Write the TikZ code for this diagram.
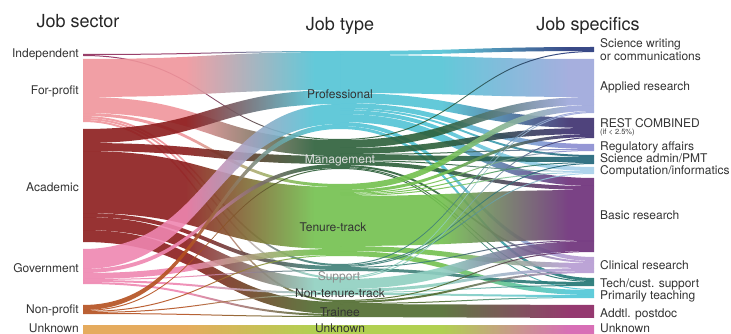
\documentclass[tikz,border=0pt]{standalone}
\usepackage{fontspec}
\setmainfont{TeX Gyre Heros}
% sector colours
\definecolor{cInd}{HTML}{8E2A5A}
\definecolor{cFor}{HTML}{EF959B}
\definecolor{cAca}{HTML}{8C1D1D}
\definecolor{cGov}{HTML}{EE86B0}
\definecolor{cNon}{HTML}{B4501F}
\definecolor{cUnL}{HTML}{E2A24C}
% job type colours
\definecolor{cPro}{HTML}{52C3D5}
\definecolor{cMan}{HTML}{2C5F3A}
\definecolor{cTen}{HTML}{72C04E}
\definecolor{cSup}{HTML}{3F7F78}
\definecolor{cNtt}{HTML}{8FCFC0}
\definecolor{cTra}{HTML}{4F6A2E}
\definecolor{cUnM}{HTML}{A9CB3E}
% job specifics colours
\definecolor{cSwr}{HTML}{23357A}
\definecolor{cApp}{HTML}{9CA6DA}
\definecolor{cRst}{HTML}{3C2F6E}
\definecolor{cReg}{HTML}{8A8CD0}
\definecolor{cAdm}{HTML}{1F6478}
\definecolor{cCom}{HTML}{A6CFEA}
\definecolor{cBas}{HTML}{6B2D78}
\definecolor{cCli}{HTML}{B59AD2}
\definecolor{cTec}{HTML}{1F7472}
\definecolor{cTea}{HTML}{4FC6D6}
\definecolor{cPos}{HTML}{8A2460}
\definecolor{cUnR}{HTML}{D45FAE}
\colorlet{fromc}{cFor}
\colorlet{toc}{cPro}
% band colour stays put first, then turns into the target colour
\pgfdeclarehorizontalshading[fromc,toc]{ribbon}{100bp}{color(0bp)=(fromc); color(45bp)=(fromc);
    color(70bp)=(toc); color(100bp)=(toc)}
\tikzset{
  band/.style={fill opacity=0.9, shading=ribbon},
  lbl/.style={font=\fontsize{12}{13}\selectfont, text=black!80, inner sep=0pt},
  ttl/.style={font=\fontsize{18}{20}\selectfont, text=black!85, inner sep=0pt}
}
% running stack positions of the bands
\newcommand{\setpos}[2]{\expandafter\xdef\csname pos#1\endcsname{#2}}
\newcommand{\flowband}[5]{%
  \edef\ya{\csname poso#1\endcsname}%
  \edef\yb{\csname posi#2\endcsname}%
  \pgfmathsetmacro\xm{(#4+#5)/2}%
  \colorlet{fromc}{c#1}\colorlet{toc}{c#2}%
  \shade[band]
    (#4,\ya) .. controls (\xm,\ya) and (\xm,\yb) .. (#5,\yb)
    -- (#5,\yb+#3) .. controls (\xm,\yb+#3) and (\xm,\ya+#3) .. (#4,\ya+#3) -- cycle;
  \pgfmathsetmacro\ya{\ya+#3}\setpos{o#1}{\ya}%
  \pgfmathsetmacro\yb{\yb+#3}\setpos{i#2}{\yb}%
}
\begin{document}
\begin{tikzpicture}[x=1pt,y=-1pt]
    \useasboundingbox (0,0) rectangle (731,334);
    % Stack tops of every column
    \foreach \n/\y in {Ind/54,For/59,Aca/129,Gov/249,Non/305,UnL/325}
        {\setpos{o\n}{\y}}
    \foreach \n/\y in {Pro/51,Man/139,Ten/184,Sup/264,Ntt/277,Tra/300,UnM/325}
        {\setpos{i\n}{\y}\setpos{o\n}{\y}}
    \foreach \n/\y in {Swr/47,App/59,Rst/118,Reg/144,Adm/155,Com/167,Bas/178,Cli/257,Tec/278,Tea/289,Pos/305,UnR/325}
        {\setpos{i\n}{\y}}
    % Job sector to job type
    \foreach \src/\dst/\hh in {Ind/Pro/1, Ind/Man/1,
            For/Pro/38, For/Man/16, For/Ten/3, For/Sup/2, For/Ntt/2, For/Tra/2,
            Aca/Pro/14, Aca/Man/8, Aca/Ten/62, Aca/Sup/4, Aca/Ntt/13, Aca/Tra/12,
            Gov/Pro/20, Gov/Man/4, Gov/Ten/6, Gov/Sup/1, Gov/Ntt/2, Gov/Tra/2,
            Non/Pro/5, Non/Man/1, Non/Ten/1, Non/Ntt/1, Non/Tra/1,
            UnL/UnM/9} {
            \flowband{\src}{\dst}{\hh}{83}{340}
        }
    % Job type to job specifics
    \foreach \src/\dst/\hh in {Pro/Swr/4, Pro/App/38, Pro/Rst/10, Pro/Reg/5, Pro/Adm/2, Pro/Com/4, Pro/Bas/8, Pro/Cli/4, Pro/Tec/3,
            Man/Swr/1, Man/App/8, Man/Rst/6, Man/Reg/1, Man/Adm/5, Man/Com/1, Man/Bas/4, Man/Cli/2, Man/Tec/1, Man/Tea/1,
            Ten/App/6, Ten/Rst/3, Ten/Reg/1, Ten/Adm/1, Ten/Com/1, Ten/Bas/50, Ten/Cli/5, Ten/Tea/5,
            Sup/App/1, Sup/Adm/1, Sup/Com/1, Sup/Bas/1, Sup/Tec/3,
            Ntt/App/1, Ntt/Rst/1, Ntt/Bas/10, Ntt/Cli/3, Ntt/Tec/1, Ntt/Tea/2,
            Tra/Bas/1, Tra/Cli/2, Tra/Tea/1, Tra/Pos/13,
            UnM/UnR/9} {
            \flowband{\src}{\dst}{\hh}{340}{594}
        }
    % Column titles
    \node[ttl, anchor=base] (tSector) at (78,28) {Job sector};
    \node[ttl, anchor=base] (tType) at (340,31) {Job type};
    \node[ttl, anchor=base] (tSpec) at (588,31) {Job specifics};
    % Job sector labels
    \foreach \n/\y/\txt in {Ind/58/Independent, For/95/For-profit, Aca/191/Academic,
            Gov/272/Government, Non/313/Non-profit, UnL/332/Unknown} {
            \node[lbl, anchor=base east] (l\n) at (79,\y) {\txt};
        }
    % Job type labels
    \node[lbl, anchor=base] (mPro) at (340,99) {Professional};
    \node[lbl, anchor=base, text=white!88!black] (mMan) at (340,164) {Management};
    \node[lbl, anchor=base] (mTen) at (333,231) {Tenure-track};
    \node[lbl, anchor=base, text=black!45] (mSup) at (339,280) {Support};
    \node[lbl, anchor=base] (mNtt) at (340,297) {Non-tenure-track};
    \node[lbl, anchor=base] (mTra) at (340,316) {Trainee};
    \node[lbl, anchor=base] (mUnM) at (340,332) {Unknown};
    % Job specifics labels
    \node[lbl, anchor=base west] (rSwr) at (600,48) {Science writing};
    \node[lbl, anchor=base west] (rSwr2) at (600,61) {or communications};
    \node[lbl, anchor=base west] (rRst) at (600,128) {REST COMBINED};
    \node[lbl, anchor=base west, font=\fontsize{7.5}{8}\selectfont] (rRst2) at (600,135) {(if < 2.5\%)};
    \foreach \n/\y/\txt in {App/91/Applied research, Reg/150/Regulatory affairs,
            Adm/163/Science admin{/}PMT, Com/175/Computation{/}informatics,
            Bas/219/Basic research, Cli/269/Clinical research,
            Tec/287/Tech{/}cust. support, Tea/299/Primarily teaching,
            Pos/317/Addtl. postdoc, UnR/332/Unknown} {
            \node[lbl, anchor=base west] (r\n) at (600,\y) {\txt};
        }
\end{tikzpicture}
\end{document}
